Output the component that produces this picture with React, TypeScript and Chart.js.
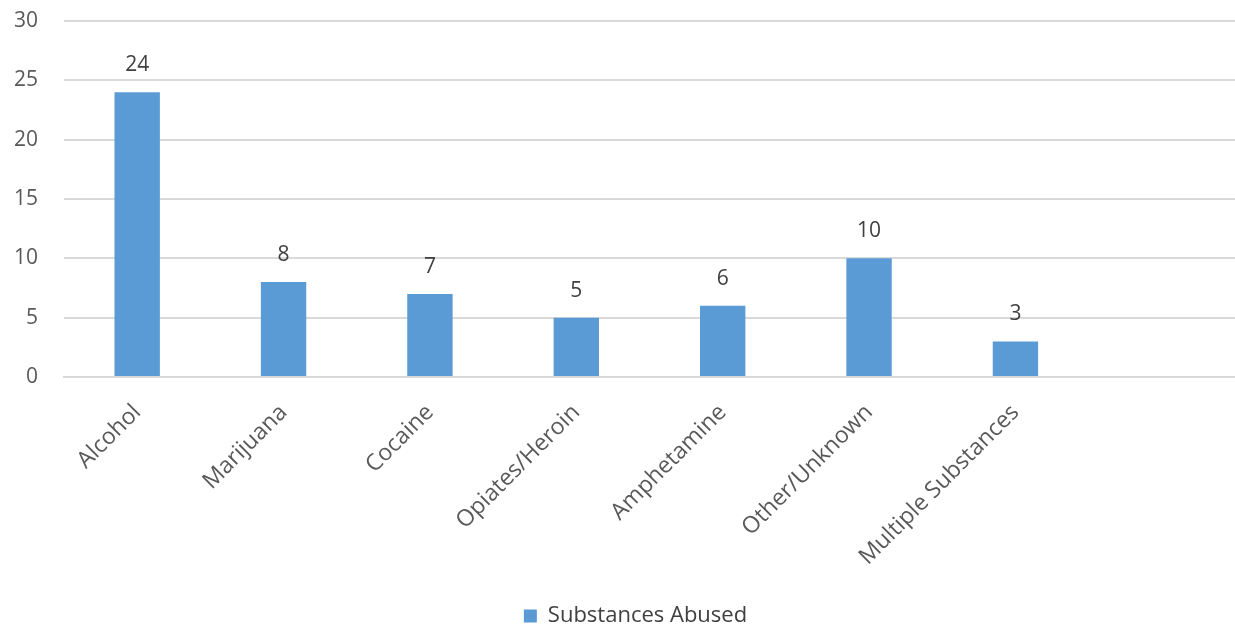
import React, { useEffect, useRef } from "react";
import { Chart, registerables } from "chart.js";

Chart.register(...registerables);

const categories = ["Alcohol", "Marijuana", "Cocaine", "Opiates/Heroin", "Amphetamine", "Other/Unknown", "Multiple Substances", ""];
const values: (number | null)[] = [24, 8, 7, 5, 6, 10, 3, null];
const seriesName = "Substances Abused";
const yTicks = [0, 5, 10, 15, 20, 25, 30];

const FONT = "'Open Sans', 'DejaVu Sans', sans-serif";

const valueLabels = {
  id: "valueLabels",
  afterDatasetsDraw(chart: any) {
    const ctx = chart.ctx;
    const meta = chart.getDatasetMeta(0);
    ctx.save();
    ctx.font = `21px ${FONT}`;
    ctx.fillStyle = "#404040";
    ctx.textAlign = "center";
    ctx.textBaseline = "alphabetic";
    meta.data.forEach((bar: any, i: number) => {
      const v = values[i];
      if (v == null) return;
      ctx.fillText(String(v), bar.x, bar.y - 21);
    });
    ctx.restore();
  },
};

const shiftLegend = {
  id: "shiftLegend",
  afterLayout(chart: any) {
    const lg = chart.legend;
    if (lg) {
      lg.left += 18;
      lg.right += 18;
      lg.top += 13;
      lg.bottom += 13;
    }
  },
};

export default function App() {
  const ref = useRef<HTMLCanvasElement>(null);
  useEffect(() => {
    document.body.style.margin = "0";
    const chart = new Chart(ref.current!, {
      type: "bar",
      data: {
        labels: categories,
        datasets: [
          {
            label: seriesName,
            data: values,
            backgroundColor: "#5B9BD5",
            barPercentage: 0.62,
            categoryPercentage: 0.5,
          },
        ],
      },
      options: {
        animation: false,
        responsive: false,
        maintainAspectRatio: false,
        layout: { padding: { left: 0, right: 0, top: 21, bottom: 0 } },
        plugins: {
          legend: {
            position: "bottom",
            labels: {
              boxWidth: 13,
              boxHeight: 13,
              color: "#404040",
              font: { family: FONT, size: 22 },
              padding: 4,
            },
          },
          tooltip: { enabled: false },
        },
        scales: {
          x: {
            grid: { display: false, drawTicks: false },
            border: { display: true, color: "#d9d9d9", width: 2 },
            ticks: {
              autoSkip: false,
              minRotation: 45,
              maxRotation: 45,
              padding: 22,
              color: "#595959",
              font: { family: FONT, size: 23 },
            },
            afterFit(scale: any) {
              scale.height = 211;
            },
          },
          y: {
            min: 0,
            max: 30,
            afterBuildTicks(scale: any) {
              scale.ticks = yTicks.map((v) => ({ value: v }));
            },
            grid: {
              color: "#d9d9d9",
              lineWidth: 2,
              drawTicks: true,
              tickLength: 26,
              tickColor: "rgba(0,0,0,0)",
            },
            border: { display: false },
            ticks: {
              padding: 0,
              color: "#595959",
              font: { family: FONT, size: 21 },
            },
            afterFit(scale: any) {
              scale.width = 64;
            },
          },
        },
      },
      plugins: [valueLabels, shiftLegend],
    } as any);
    return () => chart.destroy();
  }, []);
  return (
    <div style={{ position: "relative", width: 1235, height: 624 }}>
      <canvas ref={ref} width={1235} height={624} style={{ display: "block" }} />
    </div>
  );
}
